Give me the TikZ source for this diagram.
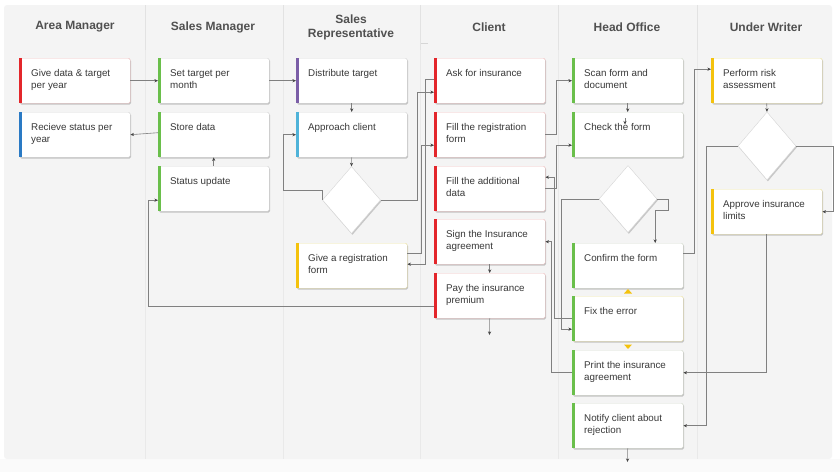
\documentclass[tikz,border=0pt]{standalone}
\usepackage{fontspec}
\setmainfont{Liberation Sans}
\usetikzlibrary{shapes.geometric,shadows,arrows.meta,calc}
\definecolor{panel}{HTML}{F4F4F4}
\definecolor{bgbot}{HTML}{FAFAFA}
\definecolor{sepc}{HTML}{E2E2E2}
\definecolor{sepl}{HTML}{E9E9E9}
\definecolor{hdr}{HTML}{505050}
\definecolor{txt}{HTML}{383838}
\definecolor{cred}{HTML}{E3262B}
\definecolor{cblue}{HTML}{2A7AC4}
\definecolor{cgreen}{HTML}{6ABF4B}
\definecolor{cpurple}{HTML}{7B5EA7}
\definecolor{ccyan}{HTML}{4FB3D9}
\definecolor{cyellow}{HTML}{F4C20D}
\definecolor{bred}{HTML}{EDBDBD}
\definecolor{bgrey}{HTML}{D6D6D6}
\definecolor{bgreen}{HTML}{D3DACC}
\definecolor{byellow}{HTML}{EAE0A0}
\definecolor{linec}{HTML}{808080}
\definecolor{tipc}{HTML}{454545}
\tikzset{
  pbox/.style={draw=#1, fill=white, minimum width=111pt, minimum height=45pt,
    inner sep=0pt, anchor=north west, rounded corners=1.5pt,
    drop shadow={shadow xshift=0.9pt, shadow yshift=-1.4pt, opacity=0.2, fill=black}},
  btext/.style={anchor=north west, align=left, inner sep=0pt, text=txt,
    font=\fontsize{9.8}{11.5}\selectfont},
  dia/.style={diamond, draw=bgrey, fill=white, minimum width=58pt, minimum height=67pt,
    inner sep=0pt,
    drop shadow={shadow xshift=0.9pt, shadow yshift=-1.4pt, opacity=0.18, fill=black}},
  hdrtext/.style={text=hdr, font=\bfseries\fontsize{12}{14}\selectfont, align=center, inner sep=0pt},
  conn/.style={draw=linec, line width=0.6pt, -{Stealth[length=3.6pt,width=3.2pt,color=tipc]}},
}
\newcommand\mybox[6]{%
  \node[pbox=#5] (#1) at (#2,#3) {};
  \fill[#4] (#1.north west) rectangle ([xshift=3pt]#1.south west);
  \node[btext] at ([xshift=12pt,yshift=-11.5pt]#1.north west) {#6};
}
\begin{document}
\begin{tikzpicture}[x=1pt,y=-1pt]
\useasboundingbox (0,0) rectangle (840,472);
\fill[white] (0,0) rectangle (840,472);
\fill[bgbot] (0,459) rectangle (840,472);
\fill[panel, rounded corners=3pt] (4,5) rectangle (832,459);
% lane separators
\foreach \sx in {145,283,420,558,697} {
  \draw[sepc, line width=0.7pt] (\sx,5) -- (\sx,50);
  \draw[sepl, line width=0.6pt] (\sx,50) -- (\sx,459);
}
\draw[bgrey, line width=0.6pt] (421,43) -- (428,43);
% headers
\node[hdrtext] (h1) at (75,27) {Area Manager};
\node[hdrtext] (h2) at (213,27) {Sales Manager};
\node[hdrtext] (h3) at (351,27) {Sales\\Representative};
\node[hdrtext] (h4) at (489,27) {Client};
\node[hdrtext] (h5) at (627,27) {Head Office};
\node[hdrtext] (h6) at (766,27) {Under Writer};
% boxes
\mybox{give}{19}{58}{cred}{bred}{Give data \& target\\per year}
\mybox{recv}{19}{112}{cblue}{bgrey}{Recieve status per\\year}
\mybox{settarget}{158}{58}{cgreen}{bgrey}{Set target per\\month}
\mybox{store}{158}{112}{cgreen}{bgrey}{Store data}
\mybox{status}{158}{166}{cgreen}{bgrey}{Status update}
\mybox{distrib}{296}{58}{cpurple}{bgrey}{Distribute target}
\mybox{approach}{296}{112}{ccyan}{bgrey}{Approach client}
\node[dia] (d1) at (351.5,200) {};
\mybox{givereg}{296}{243}{cyellow}{byellow}{Give a registration\\form}
\mybox{ask}{434}{58}{cred}{bred}{Ask for insurance}
\mybox{fillreg}{434}{112}{cred}{bred}{Fill the registration\\form}
\mybox{filladd}{434}{166}{cred}{bred}{Fill the additional\\data}
\mybox{sign}{434}{219}{cred}{bred}{Sign the Insurance\\agreement}
\mybox{pay}{434}{273}{cred}{bred}{Pay the insurance\\premium}
\mybox{scan}{572}{58}{cgreen}{bgreen}{Scan form and\\document}
\mybox{check}{572}{112}{cgreen}{bgreen}{Check the form}
\node[dia] (d2) at (628,199) {};
\mybox{confirm}{572}{243}{cgreen}{bgreen}{Confirm the form}
\mybox{fix}{572}{296}{cgreen}{byellow}{Fix the error}
\mybox{print}{572}{350}{cgreen}{bgreen}{Print the insurance\\agreement}
\mybox{notify}{572}{403}{cgreen}{bgreen}{Notify client about\\rejection}
\mybox{risk}{711}{58}{cyellow}{byellow}{Perform risk\\assessment}
\node[dia, minimum height=68pt] (d3) at (767,146) {};
\mybox{approve}{711}{189}{cyellow}{byellow}{Approve insurance\\limits}
% yellow handles on Fix the error
\fill[cyellow] (624,293.5) -- (632,293.5) -- (628,289) -- cycle;
\fill[cyellow] (624,344.5) -- (632,344.5) -- (628,349) -- cycle;
% free ends
\coordinate (payend) at (489.5,335);
\coordinate (notend) at (627.5,462);
\coordinate (ct1) at (625,118);
\coordinate (ct2) at (625,124.5);
% connectors
\draw[conn] (give.east) -- (settarget.west);
\draw[conn] (settarget.east) -- (distrib.west);
\draw[conn] ([yshift=2pt]store.west) -- (recv.east);
\draw[conn] (status.north) -- (store.south);
\draw[conn] (distrib.south) -- (approach.north);
\draw[conn] (approach.south) -- (d1.north);
\draw[conn] (d1.west) -- ++(0,-10) -| ([xshift=-13pt]approach.west) -- (approach.west);
\draw[conn] (d1.east) -| ([xshift=-17pt,yshift=-11.5pt]ask.west) -- ([yshift=-11.5pt]ask.west);
\draw[conn] ([yshift=12.5pt]givereg.east) -| ([xshift=-13pt,yshift=-10.5pt]fillreg.west) -- ([yshift=-10.5pt]fillreg.west);
\draw[conn] ([yshift=1.5pt]ask.west) -- ++(-9,0) |- ([yshift=1.5pt]givereg.east);
\draw[conn] (fillreg.east) -- ++(11,0) |- (scan.west);
\draw[conn] (filladd.east) -- ++(11,0) |- ([yshift=-10.5pt]check.west);
\draw[conn] (fix.west) -- ++(-17.5,0) |- ([yshift=11.5pt]filladd.east);
\draw[conn] (d2.west) -| ([xshift=-11pt,yshift=-10.5pt]fix.west) -- ([yshift=-10.5pt]fix.west);
\draw[conn] (d2.east) -- ++(11,0) -- ++(0,11) -| ([xshift=27.5pt]confirm.north);
\draw[conn] (scan.south) -- (check.north);
\draw[conn] (ct1) -- (ct2);
\draw[conn] ([yshift=12.5pt]confirm.east) -| ([xshift=-17pt,yshift=11.5pt]risk.west) -- ([yshift=11.5pt]risk.west);
\draw[conn] (risk.south) -- (d3.north);
\draw[conn] (d3.east) -- ++(37,0) |- (approve.east);
\draw[conn] (d3.west) -- ++(-31.5,0) |- (notify.east);
\draw[conn] (approve.south) |- (print.east);
\draw[conn] (print.west) -- ++(-21,0) |- (sign.east);
\draw[conn] (sign.south) -- (pay.north);
\draw[conn] (pay.south) -- (payend);
\draw[conn] ([yshift=-10.5pt]pay.west) -| ([xshift=-10pt,yshift=-11.5pt]status.west) -- ([yshift=-11.5pt]status.west);
\draw[conn] (notify.south) -- (notend);
\end{tikzpicture}
\end{document}
